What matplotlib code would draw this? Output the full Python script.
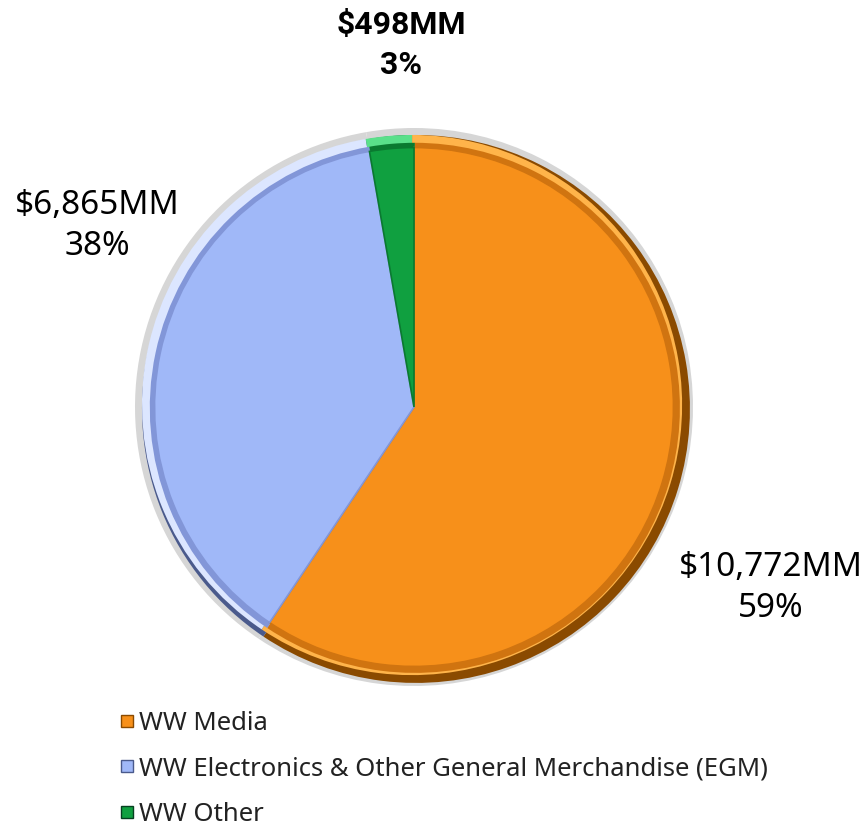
import matplotlib.pyplot as plt

plt.rcParams['font.family'] = ['Noto Sans', 'DejaVu Sans']

segments = ['WW Media', 'WW Electronics & Other General Merchandise (EGM)', 'WW Other']
revenue_mm = [10772, 6865, 498]
colors = ['#F7901A', '#A0B8F8', '#10A040']
dark_colors = ['#8A4A00', '#4A5A8C', '#064020']
mid_colors = ['#D07410', '#8296D8', '#0A7A30']
light_colors = ['#FFB44A', '#DCE6FF', '#5AE08A']

total = sum(revenue_mm)
labels = ['${:,}MM\n{:.0f}%'.format(v, 100.0 * v / total) for v in revenue_mm]

fig = plt.figure(figsize=(8.64, 8.31), dpi=100)
R = 279
cx, cy = 414, 407
ax = fig.add_axes([(cx - R) / 864, (831 - cy - R) / 831, 2 * R / 864, 2 * R / 831])

pie_kw = dict(startangle=90, counterclock=False, wedgeprops=dict(linewidth=0))
# light grey halo, then a dark (lower-right) and light (upper-left) copy for the bevel
ax.pie(revenue_mm, colors=['#D6D6D6'] * 3, radius=1.0, **pie_kw)
ax.pie(revenue_mm, colors=dark_colors, radius=0.982, center=(0.007, -0.007), **pie_kw)
ax.pie(revenue_mm, colors=light_colors, radius=0.968, center=(-0.007, 0.007), **pie_kw)
ax.pie(revenue_mm, colors=mid_colors, radius=0.95, center=(0.003, -0.003), **pie_kw)
wedges, _ = ax.pie(revenue_mm, colors=colors, radius=0.93,
                   startangle=90, counterclock=False,
                   wedgeprops=dict(linewidth=1.2))
for w, d in zip(wedges, mid_colors):
    w.set_edgecolor(d)
ax.set_xlim(-1, 1)
ax.set_ylim(-1, 1)
ax.axis('off')

# data labels (pixel positions from the reference)
fig.text(771 / 864, 1 - 588 / 831, labels[0], ha='center', va='center',
         fontsize=24, linespacing=1.3)
fig.text(97 / 864, 1 - 226 / 831, labels[1], ha='center', va='center',
         fontsize=24, linespacing=1.3)
fig.text(401 / 864, 1 - 45 / 831, labels[2], ha='center', va='center',
         fontsize=23, fontweight='bold', family=['Roboto', 'DejaVu Sans'],
         linespacing=1.4)

handles = [plt.Line2D([], [], marker='s', linestyle='', markersize=9,
                      markerfacecolor=c, markeredgecolor=d)
           for c, d in zip(colors, dark_colors)]
fig.legend(handles, segments, loc='upper left', bbox_to_anchor=(106 / 864, 1 - 698 / 831),
           frameon=False, fontsize=18.5, labelspacing=0.8, handlelength=0.6,
           handletextpad=0.2, borderpad=0, labelcolor='#222222')

fig.savefig('out.png', dpi=100)
